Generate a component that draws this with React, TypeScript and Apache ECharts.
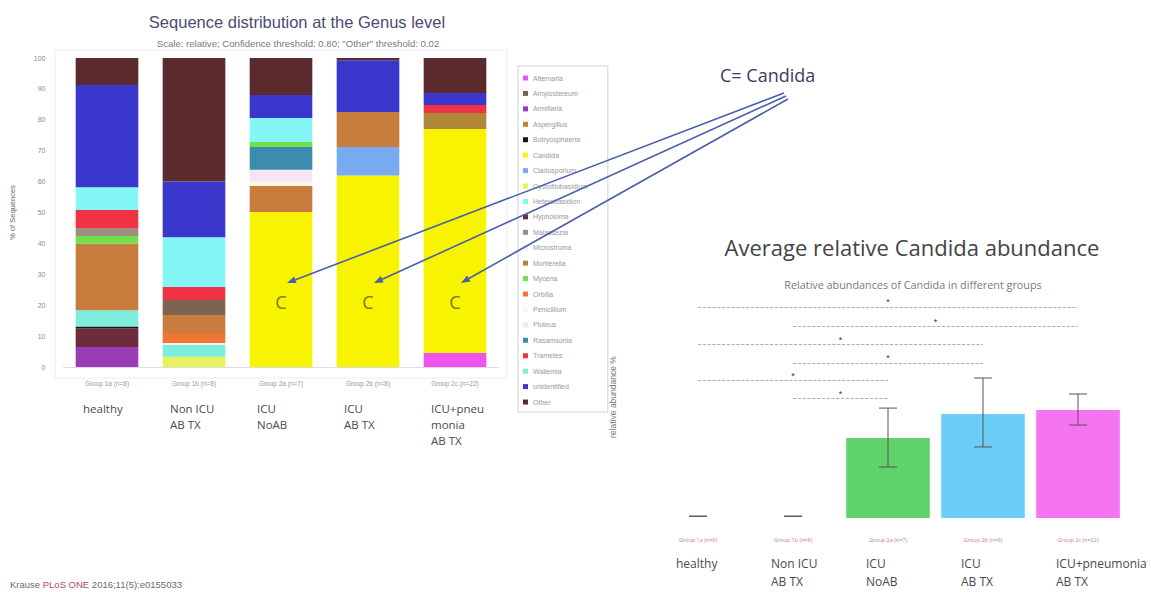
import React, { useEffect, useRef } from "react";
import * as echarts from "echarts";

// ---- Sequence distribution (genus shares in %, per group) ----
const groups = ["Group 1a (n=8)", "Group 1b (n=8)", "Group 2a (n=7)", "Group 2b (n=8)", "Group 2c (n=22)"];
const groupNamesLeft = ["healthy", "Non ICU\nAB TX", "ICU\nNoAB", "ICU\nAB TX", "ICU+pneu\nmonia\nAB TX"];
const groupNamesRight = ["healthy", "Non ICU\nAB TX", "ICU\nNoAB", "ICU\nAB TX", "ICU+pneumonia\nAB TX"];

const alternaria = [0, 0, 0, 0, 4.5];
const armillaria = [6.5, 0, 0, 0, 0];
const hypholoma = [6.0, 0, 0, 0, 0];
const botryosphaeria = [0.6, 0, 0, 0, 0];
const cystofilobasidium = [0, 3.3, 0, 0, 0];
const wallemia = [5.3, 3.8, 0, 0, 0];
const microstroma = [0, 0.7, 0, 0, 0];
const orbilia = [0, 3.2, 0, 0, 0];
const candida = [0, 0, 50.2, 62, 72.5];
const cladosporium = [0, 0, 0, 9.2, 0];
const aspergillus = [21.6, 5.8, 8.4, 11.3, 0];
const penicillium = [0, 0, 1.4, 0, 0];
const pluteus = [0, 0, 3.8, 0, 0];
const rasamsonia = [0, 0, 7.4, 0, 0];
const mycena = [2.4, 0, 1.6, 0, 0];
const malassezia = [2.6, 0, 0, 0, 0];
const amylostereum = [0, 4.9, 0, 0, 0];
const mortierella = [0, 0, 0, 0, 5.2];
const trametes = [5.8, 4.2, 0, 0, 2.6];
const heterobasidion = [7.4, 16.1, 7.8, 0, 0];
const unidentified = [33.1, 18, 7.4, 16.8, 3.9];
const other = [8.7, 40, 12, 0.7, 11.3];

// stacking order, bottom to top
const stackOrder: [string, number[]][] = [
  ["Alternaria", alternaria],
  ["Armillaria", armillaria],
  ["Hypholoma", hypholoma],
  ["Botryosphaeria", botryosphaeria],
  ["Cystofilobasidium", cystofilobasidium],
  ["Wallemia", wallemia],
  ["Microstroma", microstroma],
  ["Orbilia", orbilia],
  ["Candida", candida],
  ["Cladosporium", cladosporium],
  ["Aspergillus", aspergillus],
  ["Penicillium", penicillium],
  ["Pluteus", pluteus],
  ["Rasamsonia", rasamsonia],
  ["Mycena", mycena],
  ["Malassezia", malassezia],
  ["Amylostereum", amylostereum],
  ["Mortierella", mortierella],
  ["Trametes", trametes],
  ["Heterobasidion", heterobasidion],
  ["unidentified", unidentified],
  ["Other", other],
];

const legendOrder = [
  "Alternaria", "Amylostereum", "Armillaria", "Aspergillus", "Botryosphaeria", "Candida",
  "Cladosporium", "Cystofilobasidium", "Heterobasidion", "Hypholoma", "Malassezia",
  "Microstroma", "Mortierella", "Mycena", "Orbilia", "Penicillium", "Pluteus",
  "Rasamsonia", "Trametes", "Wallemia", "unidentified", "Other",
];

const genusColors: Record<string, string> = {
  Alternaria: "#f052f0",
  Armillaria: "#9c3cb4",
  Hypholoma: "#6c2c3c",
  Botryosphaeria: "#151515",
  Cystofilobasidium: "#e6f25e",
  Wallemia: "#7eeedc",
  Microstroma: "#eef2f2",
  Orbilia: "#f07434",
  Candida: "#f8f400",
  Cladosporium: "#78aaf0",
  Aspergillus: "#c87c3e",
  Penicillium: "#f6f8ea",
  Pluteus: "#f4e4f4",
  Rasamsonia: "#3c8cb0",
  Mycena: "#72e04a",
  Malassezia: "#a08c80",
  Amylostereum: "#7c6450",
  Mortierella: "#b0863a",
  Trametes: "#f03244",
  Heterobasidion: "#84f6f6",
  unidentified: "#3a38cc",
  Other: "#5a2a2c",
};

// ---- Average relative Candida abundance ----
const candidaMean = [0, 0, 50, 65, 67.5];
const candidaUpper = [1.2, 1.2, 68.7, 87.5, 77.5];
const candidaLower = [1.0, 1.0, 31.9, 44.4, 58.1];
const candidaBarColors = ["#e06060", "#f0a040", "#60d26c", "#6ccdf6", "#f474f2"];

// significance comparisons: [group a, group b], bracket height
const sigPairs = [[0, 4], [1, 4], [0, 3], [1, 3], [0, 2], [1, 2]];
const sigLevels = [131.9, 120, 108.7, 96.9, 86.2, 75];

const SANS = "'Liberation Sans', Arial, sans-serif";
const SOFT = "'Open Sans', 'Noto Sans', sans-serif";

export default function App() {
  const ref = useRef<HTMLDivElement>(null);

  useEffect(() => {
    document.body.style.margin = "0";
    const chart = echarts.init(ref.current!, null, { renderer: "svg" });

    const stackSeries = stackOrder.map(([name, values]) => ({
      name,
      type: "bar",
      stack: "genus",
      xAxisIndex: 0,
      yAxisIndex: 0,
      barWidth: "72%",
      data: values,
      itemStyle: { color: genusColors[name] },
    }));

    const option: any = {
      animation: false,
      textStyle: { fontFamily: SANS },
      title: [
        {
          text: "Sequence distribution at the Genus level",
          left: 292,
          top: 8,
          textAlign: "center",
          textStyle: { fontSize: 16.5, fontWeight: "normal", color: "#4b4b72", fontFamily: SANS },
        },
        {
          text: 'Scale: relative; Confidence threshold: 0.80; "Other" threshold: 0.02',
          left: 293,
          top: 33,
          textAlign: "center",
          textStyle: { fontSize: 9.6, fontWeight: "normal", color: "#7a7a7a", fontFamily: SANS },
        },
        {
          text: "Average relative Candida abundance",
          left: 907,
          top: 231,
          textAlign: "center",
          textStyle: { fontSize: 22, fontWeight: "normal", color: "#444", fontFamily: SOFT },
        },
        {
          text: "Relative abundances of Candida in different groups",
          left: 908,
          top: 274,
          textAlign: "center",
          textStyle: { fontSize: 10.8, fontWeight: "normal", color: "#7a7a7a", fontFamily: SOFT },
        },
      ],
      legend: {
        data: legendOrder,
        orient: "vertical",
        left: 518,
        top: 66,
        padding: [8, 20, 6, 5],
        borderColor: "#d0d0d0",
        borderWidth: 1,
        icon: "rect",
        itemWidth: 5,
        itemHeight: 5,
        itemGap: 7.43,
        selectedMode: false,
        textStyle: { fontSize: 7, lineHeight: 8, color: "#999", fontFamily: SANS },
      },
      grid: [
        { left: 63.5, width: 435, top: 58, height: 309 },
        { left: 650.5, width: 475, top: 294, height: 224 },
      ],
      xAxis: [
        {
          type: "category",
          gridIndex: 0,
          data: groups,
          axisTick: { show: false },
          axisLine: { lineStyle: { color: "#dddddd" } },
          axisLabel: { fontSize: 6.5, color: "#999", margin: 13 },
        },
        {
          type: "category",
          gridIndex: 1,
          data: groups,
          axisTick: { show: false },
          axisLine: { show: false },
          axisLabel: { fontSize: 5.5, color: "#c08484", margin: 19, fontFamily: SOFT },
        },
      ],
      yAxis: [
        {
          type: "value",
          gridIndex: 0,
          min: 0,
          max: 100,
          interval: 10,
          splitLine: { show: false },
          axisLine: { show: false },
          axisTick: { show: false },
          axisLabel: { fontSize: 7, color: "#888", margin: 18 },
          name: "% of Sequences",
          nameLocation: "middle",
          nameRotate: 90,
          nameGap: 47,
          nameTextStyle: { fontSize: 7.5, color: "#666" },
        },
        {
          type: "value",
          gridIndex: 1,
          min: 0,
          max: 140,
          show: false,
        },
      ],
      series: [
        ...stackSeries,
        {
          name: "Candida abundance",
          type: "bar",
          xAxisIndex: 1,
          yAxisIndex: 1,
          barWidth: "88%",
          data: candidaMean.map((v, i) => ({ value: v, itemStyle: { color: candidaBarColors[i] } })),
          markLine: {
            silent: true,
            symbol: "none",
            lineStyle: { type: "dashed", color: "#9a9a9a", width: 0.8 },
            label: { show: true, position: "middle", formatter: "*", fontSize: 9, color: "#333", distance: 0 },
            data: sigPairs.map(([a, b], k) => [
              { coord: [a, sigLevels[k]] },
              { coord: [b, sigLevels[k]] },
            ]),
          },
        },
        {
          name: "Candida error",
          type: "custom",
          xAxisIndex: 1,
          yAxisIndex: 1,
          z: 5,
          data: candidaUpper.map((u, i) => [i, u, candidaLower[i]]),
          encode: { x: 0, y: [1, 2] },
          renderItem: (_params: any, api: any) => {
            const i = api.value(0);
            const hi = api.coord([i, api.value(1)]);
            const lo = api.coord([i, api.value(2)]);
            const half = 9;
            const style = { stroke: "#555", lineWidth: 1 };
            return {
              type: "group",
              children: [
                { type: "line", shape: { x1: hi[0], y1: hi[1], x2: lo[0], y2: lo[1] }, style },
                { type: "line", shape: { x1: hi[0] - half, y1: hi[1], x2: hi[0] + half, y2: hi[1] }, style },
                { type: "line", shape: { x1: lo[0] - half, y1: lo[1], x2: lo[0] + half, y2: lo[1] }, style },
              ],
            };
          },
        },
      ],
    };

    chart.setOption(option);

    const px = (grid: number, i: number, v: number) =>
      chart.convertToPixel({ gridIndex: grid } as any, [i, v]) as number[];

    const graphics: any[] = [];

    // faint frame around the stacked plot
    graphics.push({
      type: "rect",
      shape: { x: 55, y: 50, width: 452, height: 328 },
      style: { fill: "none", stroke: "#ececec", lineWidth: 1 },
      silent: true,
    });

    // group names under the stacked bars
    groupNamesLeft.forEach((name, i) => {
      const p = px(0, i, 0);
      graphics.push({
        type: "text",
        x: p[0] - 24,
        y: p[1] + 33,
        z: 50,
        style: {
          text: name,
          fill: "#4a4a4a",
          fontSize: 11.5,
          lineHeight: 16,
          fontFamily: SOFT,
          textAlign: "left",
          textVerticalAlign: "top",
        },
      });
    });

    // group names under the Candida bars
    groupNamesRight.forEach((name, i) => {
      const p = px(1, i, 0);
      graphics.push({
        type: "text",
        x: p[0] - 22,
        y: p[1] + 36,
        z: 50,
        style: {
          text: name,
          fill: "#4a4a4a",
          fontSize: 12,
          lineHeight: 18,
          fontFamily: SOFT,
          textAlign: "left",
          textVerticalAlign: "top",
        },
      });
    });

    // "C" markers on the Candida segments and arrows from the note
    graphics.push({
      type: "text",
      x: 720,
      y: 75,
      z: 50,
      style: {
        text: "C= Candida",
        fill: "#3c3c5a",
        fontSize: 18,
        fontFamily: SOFT,
        textAlign: "left",
        textVerticalAlign: "middle",
      },
    });

    const origins = [[784, 93], [786, 96], [788, 99]];
    let k = 0;
    candida.forEach((v, i) => {
      if (v <= 0) return;
      const c = px(0, i, 21);
      graphics.push({
        type: "text",
        x: c[0],
        y: c[1],
        z: 100,
        style: {
          text: "C",
          fill: "#77761e",
          fontSize: 18,
          fontFamily: SOFT,
          textAlign: "center",
          textVerticalAlign: "middle",
        },
      });
      const tipBase = px(0, i, 27.2);
      const tip = [tipBase[0] + 6, tipBase[1]];
      const o = origins[k % origins.length];
      k += 1;
      const dx = tip[0] - o[0];
      const dy = tip[1] - o[1];
      const len = Math.sqrt(dx * dx + dy * dy);
      const ux = dx / len;
      const uy = dy / len;
      const headLen = 9;
      const headW = 3.5;
      const bx = tip[0] - ux * headLen;
      const by = tip[1] - uy * headLen;
      graphics.push({
        type: "line",
        shape: { x1: o[0], y1: o[1], x2: bx, y2: by },
        style: { stroke: "#4a5fa8", lineWidth: 1.6 },
        z: 100,
      });
      graphics.push({
        type: "polygon",
        shape: {
          points: [
            [tip[0], tip[1]],
            [bx - uy * headW, by + ux * headW],
            [bx + uy * headW, by - ux * headW],
          ],
        },
        style: { fill: "#4a5fa8" },
        z: 100,
      });
    });

    // axis title of the abundance panel
    graphics.push({
      type: "text",
      x: 613,
      y: 397,
      rotation: Math.PI / 2,
      z: 50,
      style: {
        text: "relative abundance %",
        fill: "#777",
        fontSize: 8.5,
        fontFamily: SANS,
        textAlign: "center",
        textVerticalAlign: "middle",
      },
    });

    // citation
    graphics.push({
      type: "text",
      x: 10,
      y: 584,
      z: 50,
      style: {
        text: "{a|Krause} {b|PLoS ONE} {a|2016;11(5):e0155033}",
        fontSize: 9.5,
        fontFamily: SANS,
        textVerticalAlign: "middle",
        rich: {
          a: { fill: "#6a6a7a", fontSize: 9.5, fontFamily: SANS },
          b: { fill: "#b04a6a", fontSize: 9.5, fontFamily: SANS },
        },
      },
    });

    chart.setOption({ graphic: graphics });

    return () => chart.dispose();
  }, []);

  return (
    <div
      ref={ref}
      style={{ position: "fixed", left: 0, top: 0, width: 1151, height: 592, background: "#fff" }}
    />
  );
}
